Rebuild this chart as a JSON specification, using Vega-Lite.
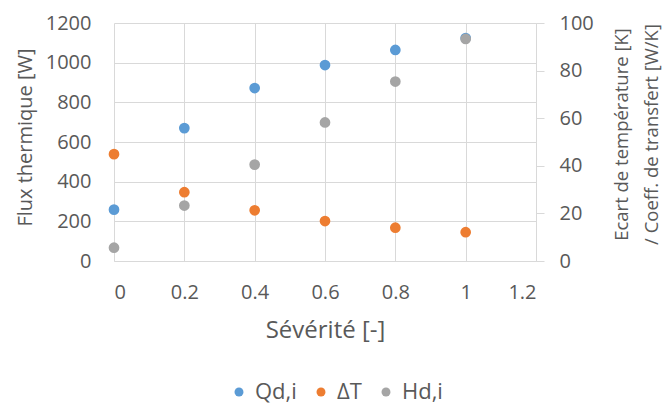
{
  "$schema": "https://vega.github.io/schema/vega-lite/v6.json",
  "width": 422,
  "height": 238,
  "autosize": {"type": "none"},
  "padding": {"left": 114, "top": 23, "right": 126, "bottom": 144},
  "background": "white",
  "config": {
    "font": "Open Sans",
    "view": {"stroke": null},
    "axis": {
      "labelFont": "Open Sans",
      "titleFont": "Open Sans",
      "labelFontSize": 20,
      "titleFontSize": 20,
      "titleFontWeight": "normal",
      "labelColor": "#595959",
      "titleColor": "#595959",
      "gridColor": "#d9d9d9",
      "domainColor": "#d9d9d9",
      "tickColor": "#d9d9d9"
    }
  },
  "data": {
    "values": [
      {"severite": 0, "serie": "Qd,i", "valeur": 259},
      {"severite": 0.2, "serie": "Qd,i", "valeur": 670},
      {"severite": 0.4, "serie": "Qd,i", "valeur": 872},
      {"severite": 0.6, "serie": "Qd,i", "valeur": 988},
      {"severite": 0.8, "serie": "Qd,i", "valeur": 1064},
      {"severite": 1, "serie": "Qd,i", "valeur": 1124},
      {"severite": 0, "serie": "ΔT", "valeur": 44.9},
      {"severite": 0.2, "serie": "ΔT", "valeur": 28.9},
      {"severite": 0.4, "serie": "ΔT", "valeur": 21.3},
      {"severite": 0.6, "serie": "ΔT", "valeur": 16.8},
      {"severite": 0.8, "serie": "ΔT", "valeur": 14.0},
      {"severite": 1, "serie": "ΔT", "valeur": 12.1},
      {"severite": 0, "serie": "Hd,i", "valeur": 5.6},
      {"severite": 0.2, "serie": "Hd,i", "valeur": 23.3},
      {"severite": 0.4, "serie": "Hd,i", "valeur": 40.5},
      {"severite": 0.6, "serie": "Hd,i", "valeur": 58.2},
      {"severite": 0.8, "serie": "Hd,i", "valeur": 75.4},
      {"severite": 1, "serie": "Hd,i", "valeur": 93.3}
    ]
  },
  "encoding": {
    "x": {
      "field": "severite",
      "type": "quantitative",
      "scale": {"domain": [0, 1.2], "nice": false},
      "axis": {
        "title": "Sévérité [-]",
        "titleFontSize": 24,
        "values": [0, 0.2, 0.4, 0.6, 0.8, 1, 1.2],
        "format": "~g",
        "grid": true,
        "ticks": false,
        "domain": true,
        "labelPadding": 21,
        "titlePadding": 16
      }
    },
    "color": {
      "field": "serie",
      "type": "nominal",
      "scale": {"domain": ["Qd,i", "ΔT", "Hd,i"], "range": ["#5B9BD5", "#ED7D31", "#A5A5A5"]},
      "legend": {
        "title": null,
        "orient": "none",
        "direction": "horizontal",
        "legendX": 114,
        "legendY": 358,
        "symbolType": "circle",
        "symbolSize": 80,
        "labelFont": "Open Sans",
        "labelFontSize": 22,
        "labelColor": "#595959",
        "labelOffset": 5,
        "columnPadding": 13
      }
    }
  },
  "layer": [
    {
      "transform": [{"filter": "datum.serie === 'Qd,i'"}],
      "mark": {"type": "circle", "size": 115, "opacity": 1},
      "encoding": {
        "y": {
          "field": "valeur",
          "type": "quantitative",
          "scale": {"domain": [0, 1200], "nice": false},
          "axis": {
            "title": "Flux thermique [W]",
            "orient": "left",
            "values": [0, 200, 400, 600, 800, 1000, 1200],
            "format": "d",
            "grid": true,
            "domain": false,
            "ticks": false,
            "labelPadding": 23,
            "titleAngle": 270,
            "titleX": -89,
            "titleY": 114,
            "titleBaseline": "middle",
            "titleAlign": "center"
          }
        }
      }
    },
    {
      "transform": [{"filter": "datum.serie !== 'Qd,i'"}],
      "mark": {"type": "circle", "size": 115, "opacity": 1},
      "encoding": {
        "y": {
          "field": "valeur",
          "type": "quantitative",
          "scale": {"domain": [0, 100], "nice": false},
          "axis": {
            "title": ["Ecart de température [K]", "/ Coeff. de transfert [W/K]"],
            "titleFontSize": 18.5,
            "orient": "right",
            "values": [0, 20, 40, 60, 80, 100],
            "grid": false,
            "domain": true,
            "ticks": true,
            "tickSize": 8,
            "labelPadding": 15,
            "titleAngle": 270,
            "titleX": 85,
            "titleY": 111,
            "titleBaseline": "middle",
            "titleAlign": "center",
            "titleLineHeight": 30
          }
        }
      }
    }
  ],
  "resolve": {"scale": {"y": "independent"}}
}
